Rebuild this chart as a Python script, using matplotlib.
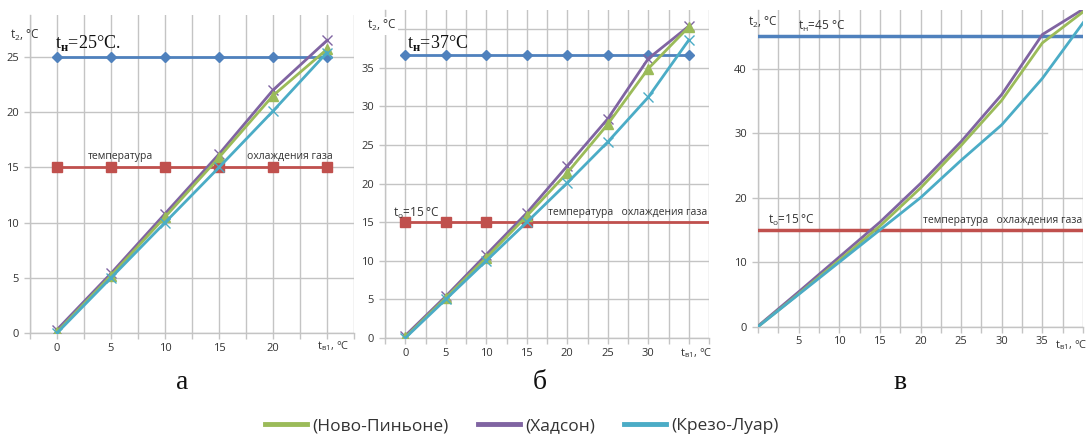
import numpy as np
import matplotlib
matplotlib.use("Agg")
import matplotlib.pyplot as plt
from matplotlib.lines import Line2D

plt.rcParams['font.family'] = ['Open Sans', 'DejaVu Sans']
plt.rcParams['mathtext.fontset'] = 'custom'
plt.rcParams['mathtext.rm'] = 'Liberation Serif'
plt.rcParams['mathtext.bf'] = 'Liberation Serif:bold'
plt.rcParams['mathtext.sf'] = 'Open Sans'

# ---------------- data ----------------
series_names = ["(Ново-Пиньоне)", "(Хадсон)", "(Крезо-Луар)"]

a_x = [0, 5, 10, 15, 20, 25]
a_novo = [0.1, 5.2, 10.5, 15.9, 21.5, 25.7]
a_hud = [0.3, 5.4, 10.8, 16.2, 22.0, 26.5]
a_kre = [0.0, 5.0, 10.0, 15.0, 20.1, 25.4]
a_tn = 25
a_t0 = 15

b_x = [0, 5, 10, 15, 20, 25, 30, 35]
b_novo = [0.1, 5.2, 10.4, 15.8, 21.4, 27.7, 34.9, 40.3]
b_hud = [0.3, 5.4, 10.8, 16.2, 22.3, 28.4, 36.2, 40.4]
b_kre = [0.0, 5.0, 10.0, 15.0, 20.1, 25.4, 31.2, 38.6]
b_tn = 36.7
b_t0 = 15
b_t0_x = [0, 5, 10, 15]

c_x = [0, 5, 10, 15, 20, 25, 30, 35, 40]
c_novo = [0.0, 5.1, 10.3, 15.6, 21.5, 28.1, 35.1, 44.0, 48.8]
c_hud = [0.1, 5.4, 10.8, 16.2, 22.2, 28.7, 36.0, 45.3, 49.2]
c_kre = [0.0, 5.0, 10.0, 15.0, 20.0, 25.8, 31.3, 38.5, 47.1]
c_tn = 45
c_t0 = 15

a_xticklabels = ["0", "5", "10", "15", "20"]
b_xticklabels = ["0", "5", "10", "15", "20", "25", "30"]
c_xticklabels = ["5", "10", "15", "20", "25", "30", "35"]
panel_letters = ["а", "б", "в"]

# ---------------- style ----------------
BLUE = "#4F81BD"
RED = "#C0504D"
GREEN = "#9BBB59"
PURPLE = "#8064A2"
CYAN = "#4BACC6"
GRID = "#C4C4C4"
TXT = "#333333"
GLW = 1.0

fig = plt.figure(figsize=(10.9, 4.38), dpi=100)
W, H = 1090, 438


def make_ax(l, r, b, t):
    return fig.add_axes([l / W, 1 - b / H, (r - l) / W, (b - t) / H])


def style(ax, xlim, ylim, xt, xlabels, yt, ylabels, ygrid=True):
    ax.set_xlim(*xlim)
    ax.set_ylim(*ylim)
    ax.set_xticks(xt)
    lab = [(str(int(v)) if (float(v).is_integer() and str(int(v)) in xlabels) else "") for v in xt]
    ax.set_xticklabels(lab)
    ax.set_yticks(yt)
    ax.set_yticklabels(ylabels)
    ax.tick_params(axis='x', length=4, width=GLW, color=GRID, labelsize=8, labelcolor=TXT, pad=3)
    ax.tick_params(axis='y', length=4, width=GLW, color=GRID, labelsize=8, labelcolor=TXT, pad=4)
    for s in ['top', 'right']:
        ax.spines[s].set_visible(False)
    for s in ['left', 'bottom']:
        ax.spines[s].set_color(GRID)
        ax.spines[s].set_linewidth(GLW)
    ax.grid(axis='x', color=GRID, linewidth=GLW)
    if ygrid:
        ax.grid(axis='y', color=GRID, linewidth=GLW)
    ax.set_axisbelow(True)
    for sp in ax.spines.values():
        sp.set_zorder(0.5)


def xlab(ax, x, dy):
    ax.annotate(r"$\mathsf{t_{в1}}$, °C", xy=(x, 0), xycoords=('data', 'axes fraction'),
                xytext=(0, -dy), textcoords='offset pixels', ha='center', va='center',
                fontsize=8, color=TXT, annotation_clip=False)


# ---------------- panel a ----------------
ax = make_ax(30, 354, 333, 15)
style(ax, (-2.5, 27.5), (0, 28.8), np.arange(-2.5, 27.6, 2.5), a_xticklabels,
      [0, 5, 10, 15, 20, 25], ["0", "5", "10", "15", "20", "25"])
ax.plot(a_x, [a_tn] * len(a_x), color=BLUE, lw=2, marker='D', ms=5)
ax.plot(a_x, [a_t0] * len(a_x), color=RED, lw=2, marker='s', ms=6.5)
ax.plot(a_x, a_hud, color=PURPLE, lw=2, marker='x', ms=7, mew=1)
ax.plot(a_x, a_novo, color=GREEN, lw=2, marker='^', ms=7)
ax.plot(a_x, a_kre, color=CYAN, lw=2, marker='x', ms=7, mew=1)
ax.text(-0.2, 26.3, r"$\mathrm{t}_{\mathbf{н}}$=25°C.", family='Liberation Serif',
        fontsize=13, ha='left', va='center', color='#111111')
ax.text(5.9, 16.0, "температура", fontsize=7.5, ha='center', va='center', color=TXT)
ax.text(21.6, 16.0, "охлаждения газа", fontsize=7.5, ha='center', va='center', color=TXT)
ax.text(-0.062, 0.935, r"$\mathsf{t_2}$, °C", transform=ax.transAxes, fontsize=8.5,
        ha='left', va='center', color=TXT)
xlab(ax, 25.6, 13)

# ---------------- panel b ----------------
ax = make_ax(385, 709, 338, 10)
style(ax, (-2.5, 37.5), (0, 42.5), np.arange(-2.5, 37.6, 2.5), b_xticklabels,
      [0, 5, 10, 15, 20, 25, 30, 35, 40], ["0", "5", "10", "15", "20", "25", "30", "35", ""])
ax.plot(b_x, [b_tn] * len(b_x), color=BLUE, lw=2, marker='D', ms=5)
ax.plot(b_t0_x, [b_t0] * len(b_t0_x), color=RED, lw=2, marker='s', ms=6.5)
ax.plot([b_t0_x[-1], 37.5], [b_t0, b_t0], color=RED, lw=2)
ax.plot(b_x, b_hud, color=PURPLE, lw=2, marker='x', ms=7, mew=1)
ax.plot(b_x, b_novo, color=GREEN, lw=2, marker='^', ms=7)
ax.plot(b_x, b_kre, color=CYAN, lw=2, marker='x', ms=7, mew=1)
ax.text(0.2, 38.2, r"$\mathrm{t}_{\mathbf{н}}$=37°C", family='Liberation Serif',
        fontsize=13, ha='left', va='center', color='#111111')
ax.text(-1.5, 16.2, r"$\mathsf{t_о}$=15 °C", fontsize=8.5, ha='left', va='center', color=TXT)
ax.text(37.3, 16.2, "температура   охлаждения газа", fontsize=7.5, ha='right',
        va='center', color=TXT)
ax.text(-0.055, 0.952, r"$\mathsf{t_2}$, °C", transform=ax.transAxes, fontsize=8.5,
        ha='left', va='center', color=TXT,
        bbox=dict(facecolor='white', edgecolor='none', pad=1))
xlab(ax, 35.9, 15)

# ---------------- panel c ----------------
ax = make_ax(758, 1083, 326.7, 10)
style(ax, (0, 40), (0, 49.1), np.arange(0, 40.1, 2.5), c_xticklabels,
      [0, 10, 20, 30, 40], ["0", "10", "20", "30", "40"], ygrid=False)
for yv in [0, 10, 20, 40]:
    ax.axhline(yv, color=GRID, lw=GLW, zorder=0.4)
ax.axhline(30, xmin=0, xmax=0.89, color=GRID, lw=GLW, zorder=0.4)
ax.axhline(c_tn, color=BLUE, lw=2.5)
ax.axhline(c_t0, color=RED, lw=2.5)
ax.plot(c_x, c_hud, color=PURPLE, lw=2)
ax.plot(c_x, c_novo, color=GREEN, lw=2)
ax.plot(c_x, c_kre, color=CYAN, lw=2)
ax.text(4.9, 46.6, r"$\mathsf{t_н}$=45 °C", fontsize=8.5, ha='left', va='center', color=TXT)
ax.text(1.2, 16.5, r"$\mathsf{t_о}$=15 °C", fontsize=8.5, ha='left', va='center', color=TXT)
ax.text(39.9, 16.5, "температура   охлаждения газа", fontsize=7.5, ha='right',
        va='center', color=TXT)
ax.text(-0.03, 0.96, r"$\mathsf{t_2}$, °C", transform=ax.transAxes, fontsize=8.5,
        ha='left', va='center', color=TXT)
xlab(ax, 38.6, 18)

# ---------------- panel letters ----------------
for xp, letter in zip([182, 540, 900], panel_letters):
    fig.text(xp / W, 1 - 389 / H, letter, fontsize=20, family='Liberation Serif',
             ha='center', va='baseline', color='#111111')

# ---------------- legend ----------------
handles = [Line2D([], [], color=c, lw=3.5) for c in (GREEN, PURPLE, CYAN)]
fig.legend(handles, series_names, loc='center', bbox_to_anchor=(522 / W, 1 - 426 / H),
           ncol=3, frameon=False, fontsize=12.5, handlelength=2.4, handletextpad=0.3,
           columnspacing=1.7, labelcolor=TXT)

fig.savefig("out.png", dpi=100)
